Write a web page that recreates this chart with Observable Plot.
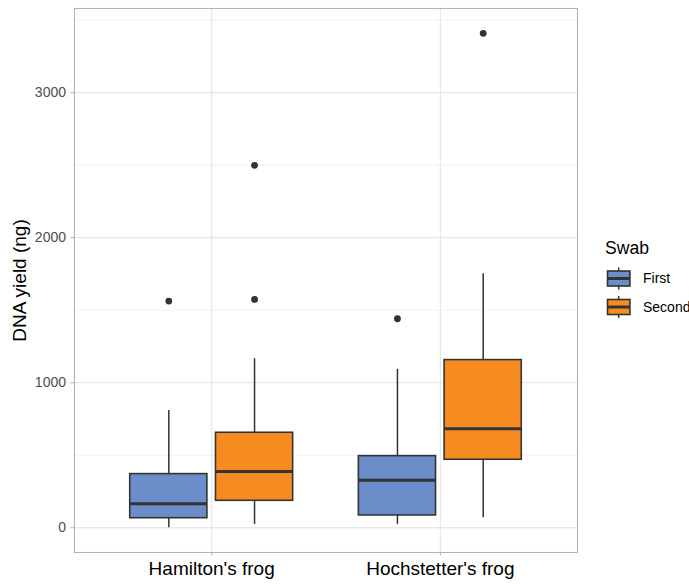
<!DOCTYPE html>
<html>
<head>
<meta charset="utf-8">
<script src="https://cdn.jsdelivr.net/npm/d3@7"></script>
<script src="https://cdn.jsdelivr.net/npm/@observablehq/plot@0.6"></script>
<style>
  html, body { margin: 0; padding: 0; background: white; }
  #chart { position: relative; width: 689px; height: 584px; }
</style>
</head>
<body>
<div id="chart"></div>
<script>
// ---- data ----
const frogs = ["Hamilton's frog", "Hochstetter's frog"];
const swabs = ["First", "Second"];
const swabColors = ["#6b8ecb", "#f68c20"];

const boxFrog = ["Hamilton's frog", "Hamilton's frog", "Hochstetter's frog", "Hochstetter's frog"];
const boxSwab = ["First", "Second", "First", "Second"];
const whiskerLow = [0, 23, 23, 69];
const q1 = [66, 186, 85, 469];
const median = [165, 388, 328, 683];
const q3 = [370, 655, 494, 1156];
const whiskerHigh = [809, 1166, 1092, 1752];

const outlierFrog = ["Hamilton's frog", "Hamilton's frog", "Hamilton's frog", "Hochstetter's frog", "Hochstetter's frog"];
const outlierSwab = ["First", "Second", "Second", "First", "Second"];
const outlierValue = [1563, 1574, 2499, 1441, 3409];

const majorTicks = [0, 1000, 2000, 3000];
const minorTicks = [500, 1500, 2500, 3500];

const yTitle = "DNA yield (ng)";
const legendTitle = "Swab";

// ---- build tables ----
const dodge = 0.1875;   // dodge offset of each swab within a frog
const halfW = 0.16875;  // half box width
const pos = (f, s) => frogs.indexOf(f) + 1 + (swabs.indexOf(s) === 0 ? -dodge : dodge);

const boxes = boxFrog.map((f, i) => ({
  frog: f, swab: boxSwab[i], xc: pos(f, boxSwab[i]),
  lo: whiskerLow[i], q1: q1[i], med: median[i], q3: q3[i], hi: whiskerHigh[i]
}));
const outliers = outlierValue.map((v, i) => ({
  frog: outlierFrog[i], swab: outlierSwab[i], xc: pos(outlierFrog[i], outlierSwab[i]), v
}));

const font = "'Liberation Sans', Arial, Helvetica, sans-serif";
const dark = "#333333";

const plot = Plot.plot({
  width: 689,
  height: 584,
  marginLeft: 74,
  marginRight: 112,
  marginTop: 8,
  marginBottom: 32,
  style: { fontFamily: font, background: "white", overflow: "visible" },
  x: { type: "linear", domain: [0.4, 2.6], label: null },
  y: { domain: [-170.5, 3580], label: null },
  color: { domain: swabs, range: swabColors },
  marks: [
    Plot.ruleY(minorTicks, { stroke: "#e3e3e3", strokeWidth: 0.5 }),
    Plot.ruleY(majorTicks, { stroke: "#dedede", strokeWidth: 0.9 }),
    Plot.ruleX([1, 2], { stroke: "#dedede", strokeWidth: 0.9 }),
    Plot.ruleX(boxes, { x: "xc", y1: "lo", y2: "hi", stroke: dark, strokeWidth: 1.5 }),
    Plot.rect(boxes, {
      x1: d => d.xc - halfW, x2: d => d.xc + halfW, y1: "q1", y2: "q3",
      fill: "swab", stroke: dark, strokeWidth: 1.6
    }),
    Plot.ruleY(boxes, { y: "med", x1: d => d.xc - halfW, x2: d => d.xc + halfW, stroke: dark, strokeWidth: 3 }),
    Plot.dot(outliers, { x: "xc", y: "v", r: 3.4, fill: dark, stroke: null }),
    Plot.frame({ stroke: "#b3b3b3", strokeWidth: 1.1 }),
    Plot.axisY({
      ticks: majorTicks, tickFormat: d => String(d), tickSize: 3.5, tickPadding: 5,
      fontSize: 14, stroke: "#b3b3b3", fill: "#4d4d4d", label: null
    }),
    Plot.axisX({
      ticks: [1, 2], tickFormat: i => frogs[i - 1], tickSize: 3.5, tickPadding: 5.5,
      fontSize: 19, stroke: "#b3b3b3", fill: "black", label: null
    }),
    Plot.text([yTitle], {
      frameAnchor: "left", dx: -55, rotate: -90, text: d => d,
      fontSize: 19, fill: "black", textAnchor: "middle"
    })
  ]
});

// ---- legend (drawn into the same SVG) ----
const svg = d3.select(plot);
const lg = svg.append("g").attr("font-family", font).attr("text-anchor", "start");
lg.append("text").attr("x", 605).attr("y", 254).attr("font-size", 17.6).attr("fill", "black").text(legendTitle);
swabs.forEach((s, i) => {
  const cy = 278.5 + i * 28.5;
  const g = lg.append("g");
  g.append("line").attr("x1", 618.7).attr("x2", 618.7).attr("y1", cy - 11).attr("y2", cy + 11)
    .attr("stroke", dark).attr("stroke-width", 1.5);
  g.append("rect").attr("x", 607.5).attr("y", cy - 7.5).attr("width", 22.4).attr("height", 15)
    .attr("fill", swabColors[i]).attr("stroke", dark).attr("stroke-width", 1.6);
  g.append("line").attr("x1", 607.5).attr("x2", 629.9).attr("y1", cy).attr("y2", cy)
    .attr("stroke", dark).attr("stroke-width", 3);
  g.append("text").attr("x", 643).attr("y", cy).attr("dy", "0.35em").attr("font-size", 14)
    .attr("fill", "black").text(s);
});

document.getElementById("chart").appendChild(plot);
</script>
</body>
</html>
